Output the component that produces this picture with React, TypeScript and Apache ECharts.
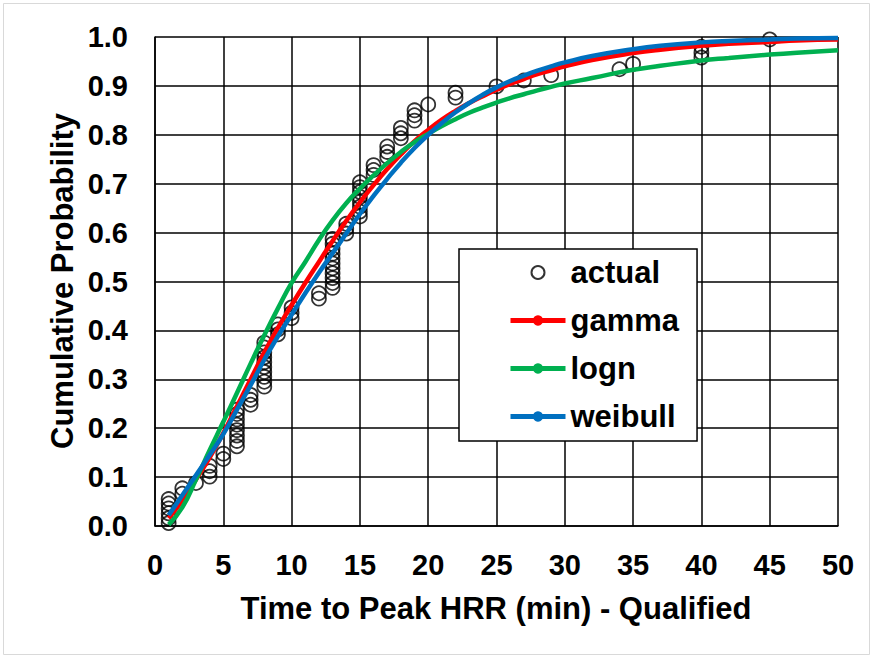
import React, { useEffect, useRef } from "react";
import * as echarts from "echarts";

// ---- data ----
const actualX = [
  1, 1, 1, 1, 1, 1,
  2, 2,
  3,
  4, 4, 4,
  5, 5,
  6, 6, 6, 6, 6, 6, 6, 6,
  7, 7, 7,
  8, 8, 8, 8, 8, 8, 8, 8, 8, 8,
  9, 9, 9,
  10, 10, 10,
  12, 12,
  13, 13, 13, 13, 13, 13, 13, 13, 13, 13, 13,
  14, 14, 14,
  15, 15, 15, 15, 15, 15, 15, 15,
  16, 16, 16,
  17, 17, 17,
  18, 18, 18,
  19, 19, 19,
  20,
  22, 22,
  25,
  27,
  29,
  34,
  35,
  40, 40, 40,
  45,
];
const actualY = [
  0.006, 0.016, 0.026, 0.036, 0.046, 0.055,
  0.066, 0.077,
  0.088,
  0.101, 0.112, 0.123,
  0.137, 0.148,
  0.163, 0.174, 0.185, 0.196, 0.207, 0.218, 0.229, 0.238,
  0.248, 0.258, 0.268,
  0.285, 0.295, 0.305, 0.315, 0.325, 0.335, 0.345, 0.355, 0.365, 0.375,
  0.392, 0.402, 0.412,
  0.425, 0.436, 0.447,
  0.465, 0.476,
  0.487, 0.497, 0.507, 0.517, 0.527, 0.537, 0.547, 0.557, 0.567, 0.577, 0.587,
  0.598, 0.608, 0.618,
  0.633, 0.643, 0.653, 0.663, 0.673, 0.683, 0.693, 0.703,
  0.718, 0.728, 0.738,
  0.755, 0.765, 0.776,
  0.793, 0.803, 0.814,
  0.829, 0.840, 0.850,
  0.862,
  0.876, 0.886,
  0.899,
  0.911,
  0.922,
  0.934,
  0.945,
  0.958, 0.968, 0.980,
  0.995,
];

const curveX = [
  1, 2, 3, 4, 5, 6, 7, 8, 9, 10, 11, 12, 13, 14, 15, 16, 17, 18, 19, 20,
  21, 22, 23, 24, 25, 26, 27, 28, 29, 30, 32, 35, 37, 40, 42, 45, 47, 50,
];
const gammaY = [
  0.016, 0.052, 0.095, 0.14, 0.19, 0.245, 0.3, 0.355, 0.405, 0.452,
  0.497, 0.54, 0.583, 0.624, 0.662, 0.697, 0.73, 0.76, 0.787, 0.81,
  0.831, 0.849, 0.865, 0.879, 0.892, 0.904, 0.914, 0.924, 0.932, 0.94,
  0.953, 0.967, 0.974, 0.982, 0.986, 0.99, 0.993, 0.995,
];
const lognY = [
  0.003, 0.038, 0.095, 0.155, 0.213, 0.272, 0.332, 0.39, 0.445, 0.497,
  0.54, 0.585, 0.625, 0.66, 0.69, 0.717, 0.742, 0.765, 0.785, 0.802,
  0.818, 0.832, 0.845, 0.856, 0.866, 0.875, 0.883, 0.891, 0.898, 0.905,
  0.916, 0.933, 0.941, 0.952, 0.957, 0.964, 0.968, 0.973,
];
const weibullY = [
  0.022, 0.063, 0.104, 0.145, 0.188, 0.238, 0.288, 0.34, 0.388, 0.432,
  0.476, 0.518, 0.558, 0.598, 0.638, 0.675, 0.71, 0.743, 0.773, 0.8,
  0.824, 0.846, 0.865, 0.882, 0.897, 0.91, 0.921, 0.931, 0.94, 0.948,
  0.961, 0.975, 0.982, 0.989, 0.992, 0.995, 0.997, 0.998,
];

const seriesNames = ["actual", "gamma", "logn", "weibull"];
const xTitle = "Time to Peak HRR (min) - Qualified";
const yTitle = "Cumulative Probability";

const FONT = "'Liberation Sans', Arial, sans-serif";

const zip = (xs: number[], ys: number[]) => xs.map((x, i) => [x, ys[i]]);

export default function App() {
  const ref = useRef<HTMLDivElement>(null);
  useEffect(() => {
    if (!ref.current) return;
    const chart = echarts.init(ref.current, null, { renderer: "svg" });
    const lineSeries = (name: string, ys: number[], color: string) => ({
      name,
      type: "line",
      data: zip(curveX, ys),
      smooth: true,
      showSymbol: false,
      symbol: "circle",
      symbolSize: 6,
      itemStyle: { color },
      lineStyle: { color, width: 4.5 },
    });
    chart.setOption({
      animation: false,
      backgroundColor: "#fff",
      textStyle: { fontFamily: FONT },
      grid: { left: 155, right: 35, top: 37, bottom: 132, containLabel: false },
      xAxis: {
        type: "value",
        min: 0,
        max: 50,
        interval: 5,
        axisLine: { show: true, lineStyle: { color: "#000", width: 1.5 } },
        axisTick: { show: false },
        splitLine: { show: true, lineStyle: { color: "#000", width: 1.5 } },
        axisLabel: {
          margin: 24,
          color: "#000",
          fontSize: 29,
          fontWeight: "bold",
          fontFamily: FONT,
        },
      },
      yAxis: {
        type: "value",
        min: 0,
        max: 1,
        interval: 0.1,
        axisLine: { show: true, lineStyle: { color: "#000", width: 1.5 } },
        axisTick: { show: false },
        splitLine: { show: true, lineStyle: { color: "#000", width: 1.5 } },
        axisLabel: {
          margin: 27,
          color: "#000",
          fontSize: 29,
          fontWeight: "bold",
          fontFamily: FONT,
          formatter: (v: number) => v.toFixed(1),
        },
      },
      legend: {
        orient: "vertical",
        left: 459,
        top: 249,
        padding: [8, 18, 9, 49],
        itemGap: 17,
        itemWidth: 55,
        itemHeight: 13,
        backgroundColor: "#fff",
        borderColor: "#000",
        borderWidth: 1.5,
        lineStyle: { width: 5 },
        data: seriesNames,
        textStyle: {
          color: "#000",
          fontSize: 31,
          fontWeight: "bold",
          fontFamily: FONT,
        },
      },
      graphic: [
        {
          type: "rect",
          shape: { x: 3.5, y: 3.5, width: 866, height: 651 },
          style: { fill: "none", stroke: "#d9d9d9", lineWidth: 1 },
          silent: true,
        },
        {
          type: "text",
          x: 496,
          y: 608,
          style: {
            text: xTitle,
            fill: "#000",
            font: `bold 31px ${FONT}`,
            textAlign: "center",
            textVerticalAlign: "middle",
          },
        },
        {
          type: "text",
          x: 62,
          y: 281,
          rotation: Math.PI / 2,
          style: {
            text: yTitle,
            fill: "#000",
            font: `bold 31px ${FONT}`,
            textAlign: "center",
            textVerticalAlign: "middle",
          },
        },
      ],
      series: [
        {
          name: "actual",
          type: "scatter",
          data: zip(actualX, actualY),
          symbol: "circle",
          symbolSize: 14,
          itemStyle: {
            color: "rgba(255,255,255,0)",
            borderColor: "#000",
            borderWidth: 1.8,
          },
        },
        lineSeries("gamma", gammaY, "#ff0000"),
        lineSeries("logn", lognY, "#00b050"),
        lineSeries("weibull", weibullY, "#0070c0"),
      ],
    });
    return () => chart.dispose();
  }, []);
  return (
    <div
      ref={ref}
      style={{ position: "absolute", left: 0, top: 0, width: 873, height: 658 }}
    />
  );
}
